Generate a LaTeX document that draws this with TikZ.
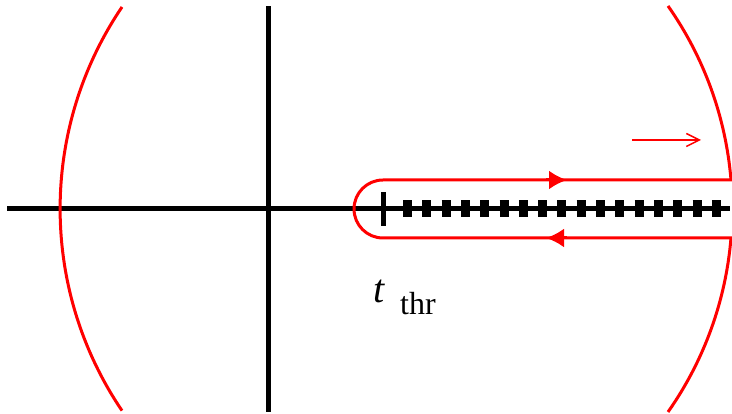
\documentclass[tikz,border=0pt]{standalone}
\usepackage{fontspec}
\setmainfont{Liberation Serif}
\usetikzlibrary{arrows.meta,calc}
\definecolor{contred}{HTML}{FF0000}
\definecolor{ink}{HTML}{000000}
\tikzset{
  axisline/.style={draw=ink, line width=5pt},
  contour/.style={draw=contred, line width=3pt},
  cutline/.style={draw=ink, line width=5pt},
  cutmark/.style={draw=ink, line width=17pt, dash pattern=on 9pt off 10.3pt},
  tip/.style={-{Latex[length=18pt,width=19pt]}, draw=contred, line width=3pt},
  dirarr/.style={-{Straight Barb[length=13pt,width=13pt]}, draw=contred, line width=1.5pt},
}

\begin{document}
\begin{tikzpicture}[x=1pt,y=1pt,font=\fontsize{32pt}{36pt}\selectfont]
  \useasboundingbox (0,0) rectangle (732,414);
  % axes
  \coordinate (xl) at (7,205);
  \coordinate (xr) at (730,205);
  \coordinate (yb) at (268,2);
  \coordinate (yt) at (268,408);
  \draw[axisline] (xl) -- (xr);
  \draw[axisline] (yb) -- (yt);
  % left arc
  \draw[contour] (122,407) arc[start angle=145.9, end angle=214.1, radius=360];
  % branch cut
  \coordinate (thr) at (383,205);
  \coordinate (cutend) at (728,205);
  \draw[cutline] (thr) -- (cutend);
  \draw[cutmark] (403,205) -- (722,205);
  \draw[draw=ink, line width=5pt] ($(thr)+(0,-17)$) -- ($(thr)+(0,17)$);
  % keyhole contour
  \draw[contour] (668,2) arc[start angle=-35.1, end angle=-4.7, radius=353]
    -- (383,176) arc[start angle=270, end angle=90, radius=29]
    -- (731,234) arc[start angle=4.7, end angle=35.1, radius=353];
  \draw[tip] (546,234) -- (567,234);
  \draw[tip] (567,176) -- (546,176);
  % direction arrow
  \coordinate (d0) at (632,274);
  \coordinate (d1) at (701,274);
  \draw[dirarr] (d0) -- (d1);
  % label
  \node[anchor=base west, inner sep=0pt, font=\fontsize{40pt}{44pt}\selectfont\itshape] (tlab) at (373,111) {t};
  \node[anchor=base west, inner sep=0pt] (sublab) at (400,99) {thr};
\end{tikzpicture}
\end{document}
